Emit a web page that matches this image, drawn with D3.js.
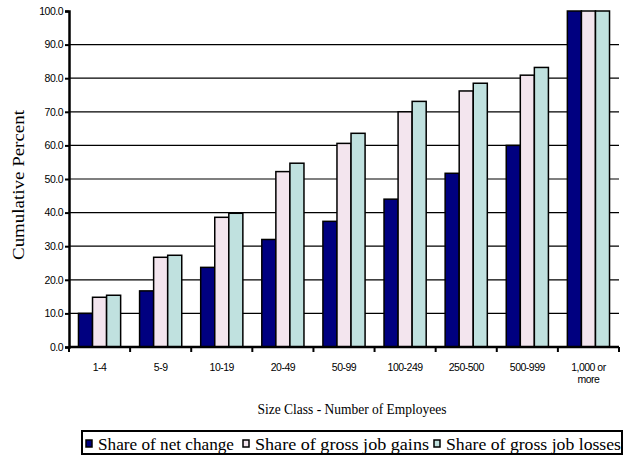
<!DOCTYPE html>
<meta charset="utf-8">
<style>
body { margin: 0; background: #fff; }
.tick text { font-family: "Liberation Sans", Arial, sans-serif; font-size: 10.5px; letter-spacing: -0.5px; fill: #000; }
.serif { font-family: "Liberation Serif", "Times New Roman", Times, serif; fill: #000; }
</style>
<body>
<script src="https://d3js.org/d3.v7.min.js"></script>
<script>

// data
var categories = ["1-4", "5-9", "10-19", "20-49", "50-99", "100-249", "250-500", "500-999", "1,000 or more"];
var netChange  = [10.0, 16.7, 23.7, 32.0, 37.4, 44.0, 51.7, 60.0, 100.0];
var jobGains   = [14.8, 26.7, 38.6, 52.2, 60.6, 70.0, 76.2, 80.9, 100.0];
var jobLosses  = [15.4, 27.3, 39.8, 54.7, 63.6, 73.1, 78.5, 83.2, 100.0];
var seriesNames = ["Share of net change", "Share of gross job gains", "Share of gross job losses"];
var seriesColors = ["#000080", "#f3e5ee", "#c0e1df"];
var yTicks = [0, 10, 20, 30, 40, 50, 60, 70, 80, 90, 100];

var series = [netChange, jobGains, jobLosses];

var margin = {top: 11, left: 69, right: 9, bottom: 110},
    width = 628 - margin.left - margin.right,
    height = 457 - margin.top - margin.bottom;

var svg = d3.select("body").append("svg")
    .attr("width", 628)
    .attr("height", 457);

var g = svg.append("g")
    .attr("transform", "translate(" + margin.left + "," + margin.top + ")");

var x = d3.scaleBand().domain(categories).range([0, width]).paddingInner(0.31).paddingOuter(0.155);
var x1 = d3.scaleBand().domain([0, 1, 2]).range([0, x.bandwidth()]);
var y = d3.scaleLinear().domain([0, 100]).range([height, 0]);

// gridlines
g.selectAll("line.grid")
    .data(yTicks.slice(1, -1))
  .enter().append("line")
    .attr("class", "grid")
    .attr("x1", 0).attr("x2", width)
    .attr("y1", function(d) { return y(d); })
    .attr("y2", function(d) { return y(d); })
    .attr("stroke", "#000").attr("stroke-width", 1.2);

// bars
var groups = g.selectAll("g.cat")
    .data(categories)
  .enter().append("g")
    .attr("transform", function(d) { return "translate(" + x(d) + ",0)"; });

groups.selectAll("rect")
    .data(function(d, i) { return series.map(function(s, k) { return {k: k, v: s[i]}; }); })
  .enter().append("rect")
    .attr("x", function(d) { return x1(d.k); })
    .attr("width", x1.bandwidth())
    .attr("y", function(d) { return y(d.v); })
    .attr("height", function(d) { return height - y(d.v); })
    .attr("fill", function(d) { return seriesColors[d.k]; })
    .attr("stroke", "#000")
    .attr("stroke-width", 1.5);

// y axis
var yAxis = g.append("g")
    .call(d3.axisLeft(y).tickValues(yTicks).tickFormat(d3.format(".1f")).tickSize(4).tickPadding(2));
yAxis.select(".domain").attr("stroke-width", 2.5);
yAxis.selectAll(".tick line").attr("stroke-width", 2);

// x axis: ticks at category boundaries
var step = x.step();
var xAxis = g.append("g").attr("transform", "translate(0," + height + ")");
xAxis.append("line").attr("x1", 0).attr("x2", width).attr("stroke", "#000").attr("stroke-width", 2.5);
xAxis.selectAll("line.tk")
    .data(d3.range(categories.length + 1))
  .enter().append("line")
    .attr("class", "tk")
    .attr("x1", function(i) { return i * step; })
    .attr("x2", function(i) { return i * step; })
    .attr("y1", 0).attr("y2", 5)
    .attr("stroke", "#000").attr("stroke-width", 2);

var xl = xAxis.selectAll("g.tick")
    .data(categories)
  .enter().append("g")
    .attr("class", "tick")
    .attr("transform", function(d) { return "translate(" + (x(d) + x.bandwidth() / 2) + ",0)"; })
  .append("text")
    .attr("text-anchor", "middle");
xl.selectAll("tspan")
    .data(function(d) { return d === "1,000 or more" ? ["1,000 or", "more"] : [d]; })
  .enter().append("tspan")
    .attr("x", 0)
    .attr("y", function(d, i) { return 24 + i * 12; })
    .text(function(d) { return d; });

// axis titles
svg.append("text")
    .attr("class", "serif")
    .attr("transform", "translate(24,185) rotate(-90)")
    .attr("text-anchor", "middle")
    .style("font-size", "17px")
    .attr("textLength", 150)
    .attr("lengthAdjust", "spacingAndGlyphs")
    .text("Cumulative Percent");

svg.append("text")
    .attr("class", "serif")
    .attr("x", 352).attr("y", 414)
    .attr("text-anchor", "middle")
    .style("font-size", "14px")
    .attr("textLength", 189)
    .attr("lengthAdjust", "spacingAndGlyphs")
    .text("Size Class - Number of Employees");

// legend
var legend = svg.append("g").attr("transform", "translate(82,431)");
legend.append("rect")
    .attr("width", 540).attr("height", 23)
    .attr("fill", "none").attr("stroke", "#000").attr("stroke-width", 2);
var legendX = [4, 161, 352];
var legendLen = [136, 174, 175];
var items = legend.selectAll("g.item")
    .data(seriesNames)
  .enter().append("g")
    .attr("transform", function(d, i) { return "translate(" + legendX[i] + ",0)"; });
items.append("rect")
    .attr("x", 0).attr("y", 9).attr("width", 6).attr("height", 7)
    .attr("fill", function(d, i) { return seriesColors[i]; })
    .attr("stroke", "#000").attr("stroke-width", 1.5);
items.append("text")
    .attr("class", "serif")
    .attr("x", 12).attr("y", 19)
    .style("font-size", "17px")
    .attr("textLength", function(d, i) { return legendLen[i]; })
    .attr("lengthAdjust", "spacingAndGlyphs")
    .text(function(d) { return d; });

</script>
</body>
